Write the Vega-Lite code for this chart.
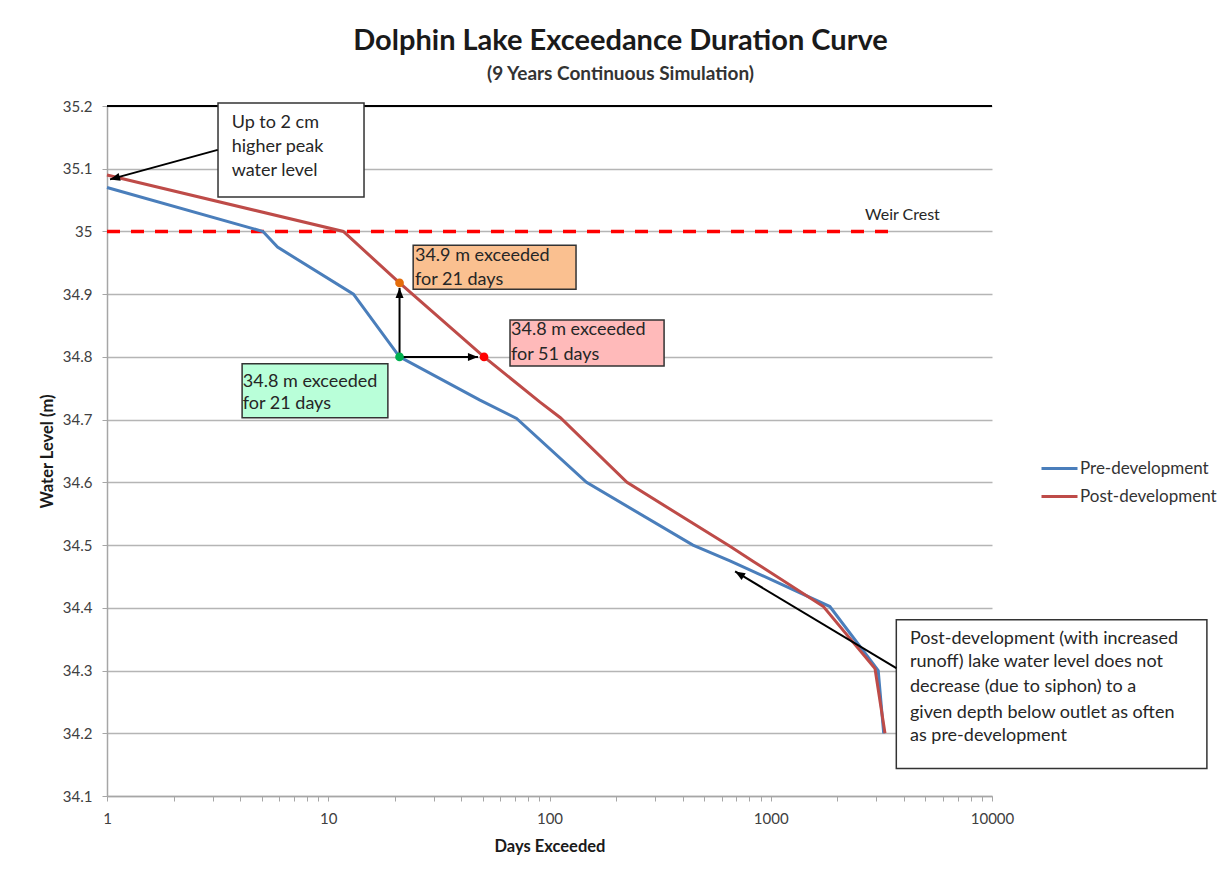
{
  "$schema": "https://vega.github.io/schema/vega-lite/v6.json",
  "width": 885,
  "height": 690,
  "autosize": {"type": "none"},
  "padding": {"left": 107, "top": 106, "right": 238, "bottom": 79},
  "background": "white",
  "title": {
    "text": "Dolphin Lake Exceedance Duration Curve",
    "subtitle": "(9 Years Continuous Simulation)",
    "anchor": "middle",
    "frame": "group",
    "dx": 71,
    "offset": 15,
    "font": "Lato",
    "fontSize": 29,
    "fontWeight": "bold",
    "color": "#1a1a1a",
    "subtitleFont": "Lato",
    "subtitleFontSize": 19,
    "subtitleFontWeight": "bold",
    "subtitleColor": "#333333",
    "subtitlePadding": 9
  },
  "datasets": {
    "curves": [
      {"series": "Pre-development", "days": 1, "level": 35.07},
      {"series": "Pre-development", "days": 5.07, "level": 35.0},
      {"series": "Pre-development", "days": 5.9, "level": 34.975},
      {"series": "Pre-development", "days": 13, "level": 34.9},
      {"series": "Pre-development", "days": 21, "level": 34.8},
      {"series": "Pre-development", "days": 48.5, "level": 34.731},
      {"series": "Pre-development", "days": 71, "level": 34.702},
      {"series": "Pre-development", "days": 147, "level": 34.6},
      {"series": "Pre-development", "days": 445, "level": 34.5},
      {"series": "Pre-development", "days": 654, "level": 34.475},
      {"series": "Pre-development", "days": 1850, "level": 34.402},
      {"series": "Pre-development", "days": 3060, "level": 34.3},
      {"series": "Pre-development", "days": 3240, "level": 34.2},
      {"series": "Post-development", "days": 1, "level": 35.09},
      {"series": "Post-development", "days": 11.7, "level": 35.0},
      {"series": "Post-development", "days": 21, "level": 34.918},
      {"series": "Post-development", "days": 50.6, "level": 34.8},
      {"series": "Post-development", "days": 90.6, "level": 34.728},
      {"series": "Post-development", "days": 112, "level": 34.703},
      {"series": "Post-development", "days": 224, "level": 34.6},
      {"series": "Post-development", "days": 654, "level": 34.498},
      {"series": "Post-development", "days": 834, "level": 34.474},
      {"series": "Post-development", "days": 1730, "level": 34.402},
      {"series": "Post-development", "days": 2960, "level": 34.303},
      {"series": "Post-development", "days": 3283, "level": 34.2}
    ],
    "top": [{"days": 1, "days2": 10000, "level": 35.2}],
    "weir": [{"days": 1, "days2": 3520, "level": 35.0}],
    "boxes": [
      {"id": "peak", "days": 3.175, "days2": 14.51, "level": 35.2048, "level2": 35.055},
      {"id": "orange", "days": 24.2, "days2": 131.8, "level": 34.978, "level2": 34.908},
      {"id": "pink", "days": 66.3, "days2": 329.5, "level": 34.859, "level2": 34.7855},
      {"id": "green", "days": 4.08, "days2": 18.6, "level": 34.789, "level2": 34.703},
      {"id": "note", "days": 3694, "days2": 93600, "level": 34.381, "level2": 34.144}
    ],
    "arrows": [
      {"id": "peak", "days": 3.165, "level": 35.13, "days2": 1.032, "level2": 35.083},
      {"id": "up", "days": 21, "level": 34.8, "days2": 21, "level2": 34.91},
      {"id": "right", "days": 21, "level": 34.8, "days2": 47.5, "level2": 34.8},
      {"id": "note", "days": 3694, "level": 34.304, "days2": 690, "level2": 34.458}
    ],
    "dots": [
      {"id": "dot-green", "days": 21, "level": 34.8},
      {"id": "dot-orange", "days": 21, "level": 34.918},
      {"id": "dot-red", "days": 50.6, "level": 34.8}
    ],
    "labels": [
      {"days": 3.66, "level": 35.173, "text": "Up to 2 cm"},
      {"days": 3.66, "level": 35.1346, "text": "higher peak"},
      {"days": 3.66, "level": 35.0964, "text": "water level"},
      {"days": 24.66, "level": 34.961, "text": "34.9 m exceeded"},
      {"days": 24.66, "level": 34.923, "text": "for 21 days"},
      {"days": 67, "level": 34.843, "text": "34.8 m exceeded"},
      {"days": 67, "level": 34.803, "text": "for 51 days"},
      {"days": 4.11, "level": 34.76, "text": "34.8 m exceeded"},
      {"days": 4.11, "level": 34.725, "text": "for 21 days"},
      {"days": 4259, "level": 34.351, "text": "Post-development (with increased"},
      {"days": 4259, "level": 34.313, "text": "runoff) lake water level does not"},
      {"days": 4259, "level": 34.273, "text": "decrease  (due to siphon) to a"},
      {"days": 4259, "level": 34.233, "text": "given depth below outlet as often"},
      {"days": 4259, "level": 34.195, "text": "as pre-development"}
    ],
    "weirlabel": [{"days": 2668, "level": 35.026, "text": "Weir Crest"}]
  },
  "encoding": {
    "x": {
      "field": "days",
      "type": "quantitative",
      "scale": {"type": "log", "domain": [1, 10000], "nice": false},
      "axis": {
        "title": "Days Exceeded",
        "values": [1,2,3,4,5,6,7,8,9,10,20,30,40,50,60,70,80,90,100,200,300,400,500,600,700,800,900,1000,2000,3000,4000,5000,6000,7000,8000,9000,10000],
        "format": "d",
        "labelExpr": "(datum.value == 1 || datum.value == 10 || datum.value == 100 || datum.value == 1000 || datum.value == 10000) ? datum.label : ''",
        "labelOverlap": false,
        "labelFlush": false,
        "grid": false,
        "tickSize": 5,
        "labelPadding": 10,
        "titlePadding": 12
      }
    },
    "y": {
      "field": "level",
      "type": "quantitative",
      "scale": {"domain": [34.1, 35.2], "nice": false, "zero": false},
      "axis": {
        "title": "Water Level (m)",
        "values": [34.1,34.2,34.3,34.4,34.5,34.6,34.7,34.8,34.9,35.0,35.1,35.2],
        "format": ".3~r",
        "grid": true,
        "tickSize": 5,
        "labelPadding": 10,
        "titlePadding": 7
      }
    }
  },
  "layer": [
    {
      "data": {"name": "top"},
      "mark": {"type": "rule", "color": "#000000", "strokeWidth": 2},
      "encoding": {"x2": {"field": "days2"}}
    },
    {
      "data": {"name": "weir"},
      "mark": {"type": "rule", "color": "#FF0000", "strokeWidth": 3.5, "strokeDash": [13, 11]},
      "encoding": {"x2": {"field": "days2"}}
    },
    {
      "data": {"name": "curves"},
      "mark": {"type": "line", "strokeWidth": 3},
      "encoding": {
        "color": {
          "field": "series",
          "type": "nominal",
          "scale": {"domain": ["Pre-development", "Post-development"], "range": ["#4A7EBB", "#BE4B48"]},
          "legend": {
            "title": null,
            "orient": "none",
            "legendX": 933,
            "legendY": 343,
            "symbolType": "stroke",
            "symbolSize": 1296,
            "symbolStrokeWidth": 3,
            "rowPadding": -1,
            "labelOffset": 1,
            "labelFont": "Lato",
            "labelFontSize": 17,
            "labelColor": "#333333",
            "padding": 0
          }
        }
      }
    },
    {
      "data": {"name": "boxes"},
      "mark": {"type": "rect", "stroke": "#333333", "strokeWidth": 1.5},
      "encoding": {
        "x2": {"field": "days2"},
        "y2": {"field": "level2"},
        "fill": {
          "field": "id",
          "type": "nominal",
          "scale": {
            "domain": ["peak", "orange", "pink", "green", "note", "dot-green", "dot-orange", "dot-red"],
            "range": ["#FFFFFF", "#FAC090", "#FFBABA", "#B9FFD9", "#FFFFFF", "#00B050", "#E46C0A", "#FF0000"]
          },
          "legend": null
        }
      }
    },
    {
      "data": {"name": "arrows"},
      "mark": {"type": "rule", "color": "#000000", "strokeWidth": 2},
      "encoding": {"x2": {"field": "days2"}, "y2": {"field": "level2"}}
    },
    {
      "data": {"name": "arrows"},
      "transform": [{"filter": "datum.id == 'peak'"}],
      "mark": {"type": "point", "shape": "M0,0L-0.8,2L0.8,2Z", "size": 100, "filled": true, "color": "#000000", "opacity": 1, "angle": 254.8},
      "encoding": {"x": {"field": "days2", "type": "quantitative"}, "y": {"field": "level2", "type": "quantitative"}}
    },
    {
      "data": {"name": "arrows"},
      "transform": [{"filter": "datum.id == 'up'"}],
      "mark": {"type": "point", "shape": "M0,0L-0.8,2L0.8,2Z", "size": 100, "filled": true, "color": "#000000", "opacity": 1, "angle": 0},
      "encoding": {"x": {"field": "days2", "type": "quantitative"}, "y": {"field": "level2", "type": "quantitative"}}
    },
    {
      "data": {"name": "arrows"},
      "transform": [{"filter": "datum.id == 'right'"}],
      "mark": {"type": "point", "shape": "M0,0L-0.8,2L0.8,2Z", "size": 100, "filled": true, "color": "#000000", "opacity": 1, "angle": 90},
      "encoding": {"x": {"field": "days2", "type": "quantitative"}, "y": {"field": "level2", "type": "quantitative"}}
    },
    {
      "data": {"name": "arrows"},
      "transform": [{"filter": "datum.id == 'note'"}],
      "mark": {"type": "point", "shape": "M0,0L-0.8,2L0.8,2Z", "size": 100, "filled": true, "color": "#000000", "opacity": 1, "angle": 300.9},
      "encoding": {"x": {"field": "days2", "type": "quantitative"}, "y": {"field": "level2", "type": "quantitative"}}
    },
    {
      "data": {"name": "dots"},
      "mark": {"type": "point", "shape": "circle", "size": 75, "filled": true, "opacity": 1},
      "encoding": {"fill": {"field": "id", "type": "nominal", "legend": null}}
    },
    {
      "data": {"name": "labels"},
      "mark": {"type": "text", "align": "left", "baseline": "middle", "font": "Lato", "fontSize": 18, "color": "#262626"},
      "encoding": {"text": {"field": "text", "type": "nominal"}}
    },
    {
      "data": {"name": "weirlabel"},
      "mark": {"type": "text", "align": "left", "baseline": "middle", "font": "Lato", "fontSize": 16, "color": "#262626"},
      "encoding": {"text": {"field": "text", "type": "nominal"}}
    }
  ],
  "config": {
    "view": {"stroke": null},
    "axis": {
      "domainColor": "#A6A6A6",
      "domainWidth": 1.5,
      "tickColor": "#A6A6A6",
      "tickWidth": 1,
      "gridColor": "#B5B5B5",
      "gridWidth": 1.5,
      "labelFont": "Lato",
      "labelFontSize": 15,
      "labelColor": "#404040",
      "titleFont": "Lato",
      "titleFontSize": 16.5,
      "titleFontWeight": "bold",
      "titleColor": "#1a1a1a"
    }
  }
}
